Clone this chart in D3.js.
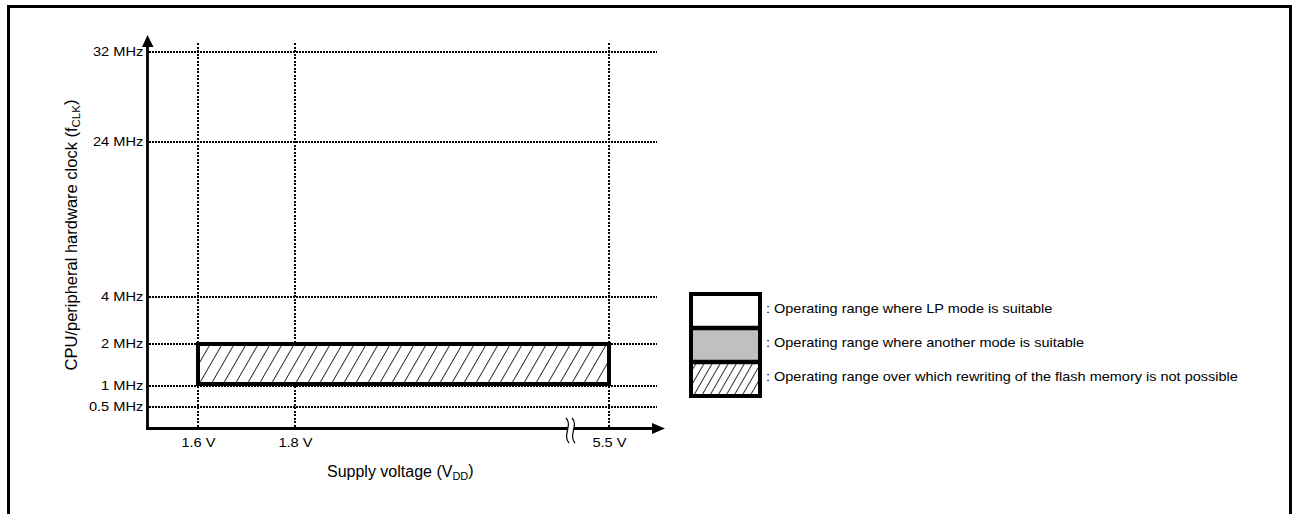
<!DOCTYPE html>
<html><head><meta charset="utf-8">
<script src="https://cdn.jsdelivr.net/npm/d3@7"></script>
<style>
body{margin:0;background:#fff}
text{font-family:"Liberation Sans",Arial,sans-serif;fill:#000}
</style>
</head><body>
<svg id="c" width="1292" height="514"></svg>
<script>
// ---- data ----
const freqTicks = [0.5, 1, 2, 4, 24, 32];
const freqLabels = ["0.5 MHz", "1 MHz", "2 MHz", "4 MHz", "24 MHz", "32 MHz"];
const voltTicks = [1.6, 1.8, 5.5];
const voltLabels = ["1.6 V", "1.8 V", "5.5 V"];
const rangeVolt = [1.6, 5.5];   // no-flash-rewrite region
const rangeFreq = [1, 2];
const legendLabels = [
  ": Operating range where LP mode is suitable",
  ": Operating range where another mode is suitable",
  ": Operating range over which rewriting of the flash memory is not possible"
];
const legendKinds = ["lp", "other", "noflash"];

// ---- layout ----
const SX = 1.19; // horizontal text stretch of the reference
const svg = d3.select("#c");
const y = d3.scaleLinear().domain([0, 0.5, 1, 2, 4, 24, 32]).range([428.5, 407, 386, 344, 297, 142, 52]);
const x = d3.scaleLinear().domain([1.5, 1.6, 1.8, 5.5]).range([147.5, 198, 295, 609]);

const defs = svg.append("defs");
function hatch(id, spacing) {
  const p = defs.append("pattern").attr("id", id).attr("patternUnits", "userSpaceOnUse")
    .attr("width", spacing).attr("height", spacing).attr("patternTransform", "rotate(30)");
  p.append("rect").attr("width", spacing).attr("height", spacing).attr("fill", "#fff");
  p.append("line").attr("x1", 0).attr("y1", 0).attr("x2", 0).attr("y2", spacing)
    .attr("stroke", "#000").attr("stroke-width", 1.6);
}
hatch("hatchMain", 10.4);
hatch("hatchLeg", 7);

// outer frame
svg.append("path").attr("d", "M8.5,514V6.5H1290.5V514").attr("fill", "none").attr("stroke", "#000").attr("stroke-width", 3);

// gridlines
svg.append("g").attr("shape-rendering", "crispEdges").selectAll("line").data(freqTicks).join("line")
  .attr("x1", 149).attr("x2", 657).attr("y1", d => Math.round(y(d))).attr("y2", d => Math.round(y(d)))
  .attr("stroke", "#000").attr("stroke-width", 2).attr("stroke-dasharray", "2,1");
svg.append("g").attr("shape-rendering", "crispEdges").selectAll("line").data(voltTicks).join("line")
  .attr("x1", d => x(d)).attr("x2", d => x(d)).attr("y1", 43).attr("y2", 428)
  .attr("stroke", "#000").attr("stroke-width", 2).attr("stroke-dasharray", "2,1.5");

// region rectangle
svg.append("rect")
  .attr("x", x(rangeVolt[0])).attr("y", y(rangeFreq[1]))
  .attr("width", x(rangeVolt[1]) - x(rangeVolt[0])).attr("height", y(rangeFreq[0]) - y(rangeFreq[1]) - 2)
  .attr("fill", "url(#hatchMain)").attr("stroke", "#000").attr("stroke-width", 4);

// axes
const yAxis = svg.append("g").attr("transform", `translate(${x(1.5)},0)`)
  .call(d3.axisLeft(y).tickValues(freqTicks).tickFormat((d, i) => freqLabels[i]).tickSize(0).tickPadding(3.5));
yAxis.select(".domain").remove();
yAxis.selectAll("text").attr("font-size", 12.3).attr("font-family", null).attr("transform", `scale(${SX},1)`);

const xAxis = svg.append("g").attr("transform", `translate(0,${y(0)})`)
  .call(d3.axisBottom(x).tickValues(voltTicks).tickFormat((d, i) => voltLabels[i]).tickSize(0).tickPadding(10));
xAxis.select(".domain").remove();
xAxis.selectAll("text").attr("font-size", 12.3).attr("font-family", null).attr("transform", `scale(${SX},1)`);

// axis lines with arrows
const ax0 = x(1.5), ay0 = y(0);
svg.append("line").attr("x1", ax0).attr("x2", ax0).attr("y1", 44).attr("y2", ay0 + 1.5).attr("stroke", "#000").attr("stroke-width", 2.8);
svg.append("path").attr("d", `M${ax0},35L${ax0 + 6},47L${ax0 - 5.5},47Z`).attr("fill", "#000");
svg.append("line").attr("x1", ax0 - 1.4).attr("x2", 654).attr("y1", ay0).attr("y2", ay0).attr("stroke", "#000").attr("stroke-width", 3);
svg.append("path").attr("d", `M665,${ay0}L652,${ay0 - 5.5}L652,${ay0 + 5.5}Z`).attr("fill", "#000");

// axis break symbol
const bx = 566;
svg.append("path").attr("d", `M${bx},418C${bx + 7},425 ${bx - 4},435 ${bx + 3},443L${bx + 9},443C${bx + 2},435 ${bx + 13},425 ${bx + 6},418Z`).attr("fill", "#fff");
[0, 6].forEach(o => {
  svg.append("path").attr("d", `M${bx + o},418C${bx + o + 7},425 ${bx + o - 4},435 ${bx + o + 3},443`)
    .attr("fill", "none").attr("stroke", "#000").attr("stroke-width", 1.2);
});

// axis titles
const yt = svg.append("text").attr("transform", `translate(71,235) rotate(-90)`)
  .attr("text-anchor", "middle").attr("font-size", 16.5).attr("dy", "0.35em");
yt.append("tspan").text("CPU/peripheral hardware clock  (f");
yt.append("tspan").attr("font-size", 11.5).attr("dy", "0.25em").text("CLK");
yt.append("tspan").attr("dy", "-0.25em").text(")");

const xt = svg.append("text").attr("transform", `translate(327,477)`).attr("font-size", 16);
xt.append("tspan").text("Supply voltage  (V");
xt.append("tspan").attr("font-size", 11).attr("dy", "0.25em").text("DD");
xt.append("tspan").attr("dy", "-0.25em").text(")");

// legend
const lg = d3.scaleBand().domain(legendKinds).range([294, 396]);
const legX = 691, legW = 69;
const fills = {lp: "#fff", other: "#c0c0c0", noflash: "url(#hatchLeg)"};
svg.append("g").selectAll("rect").data(legendKinds).join("rect")
  .attr("x", legX).attr("y", d => lg(d)).attr("width", legW).attr("height", lg.bandwidth())
  .attr("fill", d => fills[d]);
svg.append("g").selectAll("line").data(legendKinds.slice(1)).join("line")
  .attr("x1", legX).attr("x2", legX + legW).attr("y1", d => lg(d)).attr("y2", d => lg(d))
  .attr("stroke", "#000").attr("stroke-width", 4.5);
svg.append("rect").attr("x", legX).attr("y", 294).attr("width", legW).attr("height", 102)
  .attr("fill", "none").attr("stroke", "#000").attr("stroke-width", 4);
svg.append("g").selectAll("text").data(legendKinds).join("text")
  .attr("transform", d => `translate(766,${lg(d) + lg.bandwidth() / 2 - 2.5}) scale(1.208,1)`)
  .attr("dy", "0.35em").attr("font-size", 12)
  .text((d, i) => legendLabels[i]);
</script>
</body></html>
